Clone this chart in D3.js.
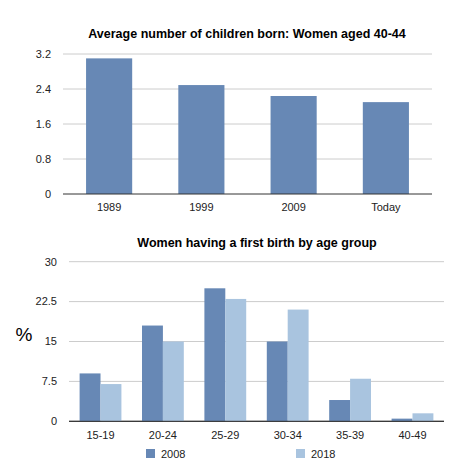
<!DOCTYPE html>
<html><head><meta charset="utf-8">
<script src="https://cdn.jsdelivr.net/npm/d3@7"></script>
<style>body{margin:0;background:#fff}text{font-family:"Liberation Sans",Arial,sans-serif}</style>
</head><body><svg id="c" width="474" height="471"></svg>
<script>
const years = ["1989","1999","2009","Today"];
const avgChildren = [3.1, 2.49, 2.24, 2.1];
const topTicks = [0, 0.8, 1.6, 2.4, 3.2];
const ageGroups = ["15-19","20-24","25-29","30-34","35-39","40-49"];
const series = ["2008","2018"];
const v2008 = [9, 18, 25, 15, 4, 0.5];
const v2018 = [7, 15, 23, 21, 8, 1.5];
const bottomTicks = [0, 7.5, 15, 22.5, 30];
const colors = ["#6788b5", "#a9c4df"];

const svg = d3.select("#c");
function grid(g, y, ticks, x0, x1, fmt){
  ticks.forEach(t=>{
    g.append("line").attr("x1",x0).attr("x2",x1).attr("y1",y(t)).attr("y2",y(t))
     .attr("stroke", t===0?"#333":"#ccc").attr("stroke-width",1);
    g.append("text").attr("x",x0-12).attr("y",y(t)).attr("dy","0.35em").attr("text-anchor","end")
     .attr("font-size",11).attr("fill","#222").text(fmt(t));
  });
}
// Top chart
const g1 = svg.append("g");
const x1 = d3.scaleBand().domain(years).range([63,432]).paddingInner(0.5).paddingOuter(0.25);
const y1 = d3.scaleLinear().domain([0,3.2]).range([194,54]);
grid(g1, y1, topTicks, 63, 432, d=>String(d));
g1.selectAll("rect").data(avgChildren).join("rect")
  .attr("x",(d,i)=>x1(years[i])).attr("width",x1.bandwidth())
  .attr("y",d=>y1(d)).attr("height",d=>y1(0)-y1(d)).attr("fill",colors[0]);
g1.selectAll("line").filter((d,i,n)=>d3.select(n[i]).attr("y1")==y1(0)).raise();
years.forEach(c=>g1.append("text").attr("x",x1(c)+x1.bandwidth()/2).attr("y",211).attr("text-anchor","middle").attr("font-size",11).attr("fill","#222").text(c));
g1.append("text").attr("x",247).attr("y",38).attr("text-anchor","middle").attr("font-size",12.5).attr("font-weight","bold").text("Average number of children born: Women aged 40-44");

// Bottom chart
const g2 = svg.append("g");
const x2 = d3.scaleBand().domain(ageGroups).range([69,444]).paddingInner(0.33).paddingOuter(0.17);
const xs = d3.scaleBand().domain(series).range([0,x2.bandwidth()]);
const y2 = d3.scaleLinear().domain([0,30]).range([421.3,261.7]);
grid(g2, y2, bottomTicks, 69, 444, d=>String(d));
[v2008, v2018].forEach((vals,si)=>{
  g2.append("g").selectAll("rect").data(vals).join("rect")
   .attr("x",(d,i)=>x2(ageGroups[i])+xs(series[si])).attr("width",xs.bandwidth())
   .attr("y",d=>y2(d)).attr("height",d=>y2(0)-y2(d)).attr("fill",colors[si]);
});
g2.append("line").attr("x1",69).attr("x2",444).attr("y1",y2(0)).attr("y2",y2(0)).attr("stroke","#333");
ageGroups.forEach(c=>g2.append("text").attr("x",x2(c)+x2.bandwidth()/2).attr("y",439).attr("text-anchor","middle").attr("font-size",11).attr("fill","#222").text(c));
g2.append("text").attr("x",257).attr("y",247).attr("text-anchor","middle").attr("font-size",12.5).attr("font-weight","bold").text("Women having a first birth by age group");
g2.append("text").attr("x",24).attr("y",341).attr("text-anchor","middle").attr("font-size",19).text("%");
const legX = [146, 296];
series.forEach((s,i)=>{
  g2.append("rect").attr("x",legX[i]).attr("y",449).attr("width",9).attr("height",9).attr("fill",colors[i]);
  g2.append("text").attr("x",legX[i]+15).attr("y",454).attr("dy","0.35em").attr("font-size",11).attr("fill","#222").text(s);
});
</script></body></html>
